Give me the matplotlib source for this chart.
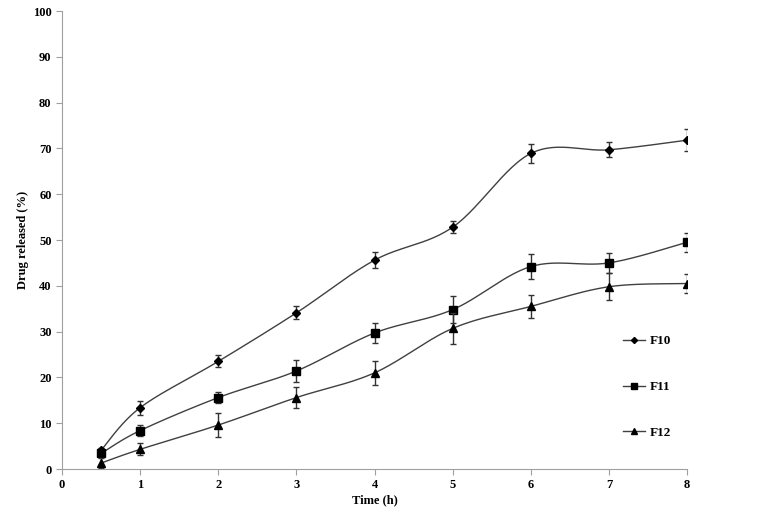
import matplotlib
matplotlib.use("Agg")
import matplotlib.pyplot as plt
from matplotlib.lines import Line2D
import numpy as np

plt.rcParams['font.family'] = ['Liberation Serif', 'DejaVu Serif']
plt.rcParams['font.weight'] = 'bold'

tempo = [0.5, 1, 2, 3, 4, 5, 6, 7, 8]

f10 = [4.1, 13.4, 23.5, 34.1, 45.6, 52.8, 68.9, 69.7, 71.8]
f10_err = [0.5, 1.5, 1.3, 1.4, 1.8, 1.3, 2.0, 1.6, 2.4]

f11 = [3.4, 8.4, 15.6, 21.4, 29.7, 34.8, 44.2, 45.0, 49.5]
f11_err = [0.8, 1.2, 1.2, 2.4, 2.1, 2.9, 2.7, 2.2, 2.1]

f12 = [1.3, 4.3, 9.6, 15.6, 21.0, 30.7, 35.5, 39.8, 40.5]
f12_err = [1.0, 1.3, 2.6, 2.2, 2.6, 3.3, 2.6, 2.9, 2.1]

series = [("F10", f10, f10_err, "D", 3.6),
          ("F11", f11, f11_err, "s", 5.2),
          ("F12", f12, f12_err, "^", 5.6)]


def curva_suave(x, y, sx=78.1, sy=4.58, n=30):
    # bezier tipo excel, calculado em escala de pixels
    px = np.array(x) * sx
    py = np.array(y) * sy
    pts = np.column_stack([px, py])
    out = []
    for i in range(len(pts) - 1):
        p0 = pts[i - 1] if i > 0 else pts[i]
        p1 = pts[i]
        p2 = pts[i + 1]
        p3 = pts[i + 2] if i + 2 < len(pts) else pts[i + 1]
        c1 = p1 + (p2 - p0) / 6
        c2 = p2 - (p3 - p1) / 6
        t = np.linspace(0, 1, n)[:, None]
        seg = ((1 - t) ** 3) * p1 + 3 * ((1 - t) ** 2) * t * c1 + 3 * (1 - t) * t ** 2 * c2 + t ** 3 * p2
        out.append(seg if i == 0 else seg[1:])
    out = np.vstack(out)
    return out[:, 0] / sx, out[:, 1] / sy


fig = plt.figure(figsize=(7.61, 5.17), dpi=100)
ax = fig.add_axes([0.0815, 0.0928, 0.8213, 0.8859])

handles = []
for nome, vals, errs, mk, ms in series:
    xs, ys = curva_suave(tempo, vals)
    ax.plot(xs, ys, color='#404040', lw=1)
    ax.errorbar(tempo, vals, yerr=errs, fmt='none', ecolor='#333333',
                elinewidth=1, capsize=2.5, capthick=1)
    ax.plot(tempo, vals, linestyle='none', marker=mk, markersize=ms,
            color='black')
    handles.append(Line2D([], [], color='#404040', lw=1, marker=mk,
                          markersize=ms * 0.85, markerfacecolor='black',
                          markeredgecolor='black', label=nome))

ax.set_xlim(0, 8)
ax.set_ylim(0, 100)
ax.set_xticks(range(0, 9))
ax.set_yticks(range(0, 101, 10))
for s in ['top', 'right']:
    ax.spines[s].set_visible(False)
for s in ['left', 'bottom']:
    ax.spines[s].set_color('#a0a0a0')
ax.tick_params(colors='#a0a0a0', labelcolor='black', labelsize=9,
               length=4, width=0.8)
for lab in ax.get_xticklabels() + ax.get_yticklabels():
    lab.set_fontweight('bold')

ax.set_xlabel('Time (h)', fontsize=9, fontweight='bold', labelpad=2)
ax.set_ylabel('Drug released (%)', fontsize=9, fontweight='bold', labelpad=3)

fig.legend(handles=handles, loc='upper left', bbox_to_anchor=(0.8187, 0.352),
           frameon=False, handlelength=1.7, handletextpad=0.3,
           labelspacing=2.55, borderpad=0, borderaxespad=0,
           prop={'weight': 'bold', 'size': 9.5})

fig.savefig('out.png', dpi=100)
